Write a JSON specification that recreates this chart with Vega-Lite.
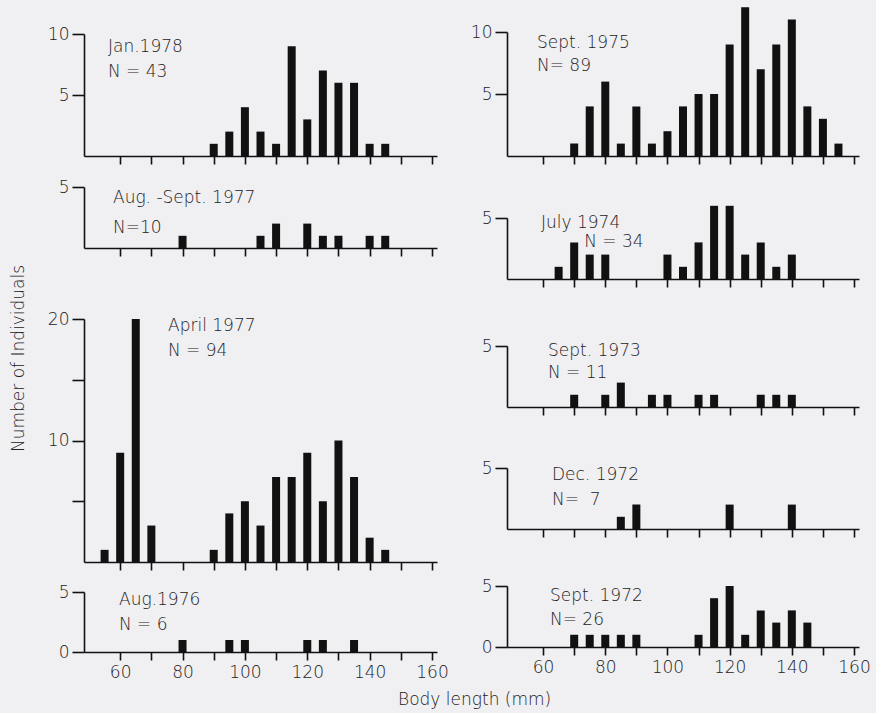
{
  "$schema": "https://vega.github.io/schema/vega-lite/v6.json",
  "background": "#f0eff2",
  "padding": {"left": 9, "top": 7, "right": 5, "bottom": 5},
  "autosize": {"type": "pad"},
  "title": {"text": "Body length (mm)", "orient": "bottom", "anchor": "middle", "frame": "bounds", "offset": 12, "dx": 35, "fontSize": 17, "font": "DejaVu Sans", "fontWeight": 200, "color": "#222"},
  "datasets": {
    "bars": [
      {"panel": "J78", "length": 90, "count": 1}, {"panel": "J78", "length": 95, "count": 2}, {"panel": "J78", "length": 100, "count": 4}, {"panel": "J78", "length": 105, "count": 2}, {"panel": "J78", "length": 110, "count": 1}, {"panel": "J78", "length": 115, "count": 9}, {"panel": "J78", "length": 120, "count": 3}, {"panel": "J78", "length": 125, "count": 7}, {"panel": "J78", "length": 130, "count": 6}, {"panel": "J78", "length": 135, "count": 6}, {"panel": "J78", "length": 140, "count": 1}, {"panel": "J78", "length": 145, "count": 1},
      {"panel": "AS77", "length": 80, "count": 1}, {"panel": "AS77", "length": 105, "count": 1}, {"panel": "AS77", "length": 110, "count": 2}, {"panel": "AS77", "length": 120, "count": 2}, {"panel": "AS77", "length": 125, "count": 1}, {"panel": "AS77", "length": 130, "count": 1}, {"panel": "AS77", "length": 140, "count": 1}, {"panel": "AS77", "length": 145, "count": 1},
      {"panel": "A77", "length": 55, "count": 1}, {"panel": "A77", "length": 60, "count": 9}, {"panel": "A77", "length": 65, "count": 20}, {"panel": "A77", "length": 70, "count": 3}, {"panel": "A77", "length": 90, "count": 1}, {"panel": "A77", "length": 95, "count": 4}, {"panel": "A77", "length": 100, "count": 5}, {"panel": "A77", "length": 105, "count": 3}, {"panel": "A77", "length": 110, "count": 7}, {"panel": "A77", "length": 115, "count": 7}, {"panel": "A77", "length": 120, "count": 9}, {"panel": "A77", "length": 125, "count": 5}, {"panel": "A77", "length": 130, "count": 10}, {"panel": "A77", "length": 135, "count": 7}, {"panel": "A77", "length": 140, "count": 2}, {"panel": "A77", "length": 145, "count": 1},
      {"panel": "A76", "length": 80, "count": 1}, {"panel": "A76", "length": 95, "count": 1}, {"panel": "A76", "length": 100, "count": 1}, {"panel": "A76", "length": 120, "count": 1}, {"panel": "A76", "length": 125, "count": 1}, {"panel": "A76", "length": 135, "count": 1},
      {"panel": "S75", "length": 70, "count": 1}, {"panel": "S75", "length": 75, "count": 4}, {"panel": "S75", "length": 80, "count": 6}, {"panel": "S75", "length": 85, "count": 1}, {"panel": "S75", "length": 90, "count": 4}, {"panel": "S75", "length": 95, "count": 1}, {"panel": "S75", "length": 100, "count": 2}, {"panel": "S75", "length": 105, "count": 4}, {"panel": "S75", "length": 110, "count": 5}, {"panel": "S75", "length": 115, "count": 5}, {"panel": "S75", "length": 120, "count": 9}, {"panel": "S75", "length": 125, "count": 12}, {"panel": "S75", "length": 130, "count": 7}, {"panel": "S75", "length": 135, "count": 9}, {"panel": "S75", "length": 140, "count": 11}, {"panel": "S75", "length": 145, "count": 4}, {"panel": "S75", "length": 150, "count": 3}, {"panel": "S75", "length": 155, "count": 1},
      {"panel": "J74", "length": 65, "count": 1}, {"panel": "J74", "length": 70, "count": 3}, {"panel": "J74", "length": 75, "count": 2}, {"panel": "J74", "length": 80, "count": 2}, {"panel": "J74", "length": 100, "count": 2}, {"panel": "J74", "length": 105, "count": 1}, {"panel": "J74", "length": 110, "count": 3}, {"panel": "J74", "length": 115, "count": 6}, {"panel": "J74", "length": 120, "count": 6}, {"panel": "J74", "length": 125, "count": 2}, {"panel": "J74", "length": 130, "count": 3}, {"panel": "J74", "length": 135, "count": 1}, {"panel": "J74", "length": 140, "count": 2},
      {"panel": "S73", "length": 70, "count": 1}, {"panel": "S73", "length": 80, "count": 1}, {"panel": "S73", "length": 85, "count": 2}, {"panel": "S73", "length": 95, "count": 1}, {"panel": "S73", "length": 100, "count": 1}, {"panel": "S73", "length": 110, "count": 1}, {"panel": "S73", "length": 115, "count": 1}, {"panel": "S73", "length": 130, "count": 1}, {"panel": "S73", "length": 135, "count": 1}, {"panel": "S73", "length": 140, "count": 1},
      {"panel": "D72", "length": 85, "count": 1}, {"panel": "D72", "length": 90, "count": 2}, {"panel": "D72", "length": 120, "count": 2}, {"panel": "D72", "length": 140, "count": 2},
      {"panel": "S72", "length": 70, "count": 1}, {"panel": "S72", "length": 75, "count": 1}, {"panel": "S72", "length": 80, "count": 1}, {"panel": "S72", "length": 85, "count": 1}, {"panel": "S72", "length": 90, "count": 1}, {"panel": "S72", "length": 110, "count": 1}, {"panel": "S72", "length": 115, "count": 4}, {"panel": "S72", "length": 120, "count": 5}, {"panel": "S72", "length": 125, "count": 1}, {"panel": "S72", "length": 130, "count": 3}, {"panel": "S72", "length": 135, "count": 2}, {"panel": "S72", "length": 140, "count": 3}, {"panel": "S72", "length": 145, "count": 2}
    ]
  },
  "config": {
    "view": {"stroke": null},
    "font": "DejaVu Sans",
    "axis": {"grid": false, "domainColor": "#111", "domainWidth": 1.6, "tickColor": "#111", "tickWidth": 1.6, "labelColor": "#222", "labelFontSize": 17, "labelFont": "DejaVu Sans", "labelFontWeight": 200, "labelFlush": false, "labelOverlap": false},
    "axisX": {"tickSize": 8, "labelPadding": 4},
    "axisY": {"tickSize": 12, "labelPadding": 3},
    "title": {"anchor": "start", "frame": "group", "fontSize": 17, "fontWeight": 200, "font": "DejaVu Sans", "color": "#222"}
  },
  "spacing": 21,
  "hconcat": [
    {
      "spacing": 0,
      "bounds": "flush",
      "vconcat": [
        {
          "width": 353, "height": 149,
          "data": {"name": "bars"},
          "transform": [{"filter": "datum.panel == 'J78'"}],
          "title": {"text": ["Jan.1978", "N = 43"], "offset": -74, "dx": 24, "lineHeight": 25},
          "mark": {"type": "bar", "width": 8, "color": "#111"},
          "encoding": {
            "x": {"field": "length", "type": "quantitative", "title": null, "scale": {"domain": [50, 160], "nice": false, "zero": false}, "axis": {"values": [60, 70, 80, 90, 100, 110, 120, 130, 140, 150, 160], "labels": false}},
            "y": {"field": "count", "type": "quantitative", "title": null, "scale": {"domain": [0, 10], "range": [149, 27], "nice": false}, "axis": {"values": [5, 10]}}
          }
        },
        {
          "width": 353, "height": 92,
          "data": {"name": "bars"},
          "transform": [{"filter": "datum.panel == 'AS77'"}],
          "title": {"text": ["Aug. -Sept. 1977", "N=10"], "offset": -81, "dx": 29, "lineHeight": 30},
          "mark": {"type": "bar", "width": 8, "color": "#111"},
          "encoding": {
            "x": {"field": "length", "type": "quantitative", "title": null, "scale": {"domain": [50, 160], "nice": false, "zero": false}, "axis": {"values": [60, 70, 80, 90, 100, 110, 120, 130, 140, 150, 160], "labels": false}},
            "y": {"field": "count", "type": "quantitative", "title": null, "scale": {"domain": [0, 5], "range": [92, 31], "nice": false}, "axis": {"values": [5]}}
          }
        },
        {
          "width": 353, "height": 314,
          "data": {"name": "bars"},
          "transform": [{"filter": "datum.panel == 'A77'"}],
          "title": {"text": ["April  1977", "N = 94"], "offset": -112, "dx": 84, "lineHeight": 25},
          "mark": {"type": "bar", "width": 8, "color": "#111"},
          "encoding": {
            "x": {"field": "length", "type": "quantitative", "title": null, "scale": {"domain": [50, 160], "nice": false, "zero": false}, "axis": {"values": [60, 70, 80, 90, 100, 110, 120, 130, 140, 150, 160], "labels": false}},
            "y": {"field": "count", "type": "quantitative", "title": "Number of  Individuals", "scale": {"domain": [0, 20], "range": [314, 71], "nice": false}, "axis": {"values": [5, 10, 15, 20], "labelExpr": "datum.value % 10 == 0 ? datum.label : ''", "titleX": -66, "titleY": 110, "titleAngle": 270, "titleAlign": "center", "titleBaseline": "middle", "titleFontSize": 17, "titleFontWeight": 200, "titleFont": "DejaVu Sans", "titleColor": "#222"}}
          }
        },
        {
          "width": 353, "height": 90,
          "data": {"name": "bars"},
          "transform": [{"filter": "datum.panel == 'A76'"}],
          "title": {"text": ["Aug.1976", "N = 6"], "offset": -72, "dx": 35, "lineHeight": 25},
          "mark": {"type": "bar", "width": 8, "color": "#111"},
          "encoding": {
            "x": {"field": "length", "type": "quantitative", "title": null, "scale": {"domain": [50, 160], "nice": false, "zero": false}, "axis": {"values": [60, 70, 80, 90, 100, 110, 120, 130, 140, 150, 160], "labelExpr": "datum.value % 20 == 0 ? datum.label : ''"}},
            "y": {"field": "count", "type": "quantitative", "title": null, "scale": {"domain": [0, 5], "range": [90, 30], "nice": false}, "axis": {"values": [0, 5]}}
          }
        }
      ]
    },
    {
      "spacing": 0,
      "bounds": "flush",
      "vconcat": [
        {
          "width": 352, "height": 149,
          "data": {"name": "bars"},
          "transform": [{"filter": "datum.panel == 'S75'"}],
          "title": {"text": ["Sept. 1975", "N= 89"], "offset": -68, "dx": 30, "lineHeight": 23},
          "mark": {"type": "bar", "width": 8, "color": "#111"},
          "encoding": {
            "x": {"field": "length", "type": "quantitative", "title": null, "scale": {"domain": [50, 160], "nice": false, "zero": false}, "axis": {"values": [60, 70, 80, 90, 100, 110, 120, 130, 140, 150, 160], "labels": false}},
            "y": {"field": "count", "type": "quantitative", "title": null, "scale": {"domain": [0, 10], "range": [149, 25], "nice": false}, "axis": {"values": [5, 10]}}
          }
        },
        {
          "width": 352, "height": 123,
          "data": {"name": "bars"},
          "transform": [{"filter": "datum.panel == 'J74'"}],
          "title": {"text": ["July 1974", "\u200b\u00a0\u00a0\u00a0\u00a0\u00a0\u00a0\u00a0\u00a0N = 34"], "offset": -95, "dx": 34, "lineHeight": 19},
          "mark": {"type": "bar", "width": 8, "color": "#111"},
          "encoding": {
            "x": {"field": "length", "type": "quantitative", "title": null, "scale": {"domain": [50, 160], "nice": false, "zero": false}, "axis": {"values": [60, 70, 80, 90, 100, 110, 120, 130, 140, 150, 160], "labels": false}},
            "y": {"field": "count", "type": "quantitative", "title": null, "scale": {"domain": [0, 5], "range": [123, 62], "nice": false}, "axis": {"values": [5]}}
          }
        },
        {
          "width": 352, "height": 128,
          "data": {"name": "bars"},
          "transform": [{"filter": "datum.panel == 'S73'"}],
          "title": {"text": ["Sept. 1973", "N = 11"], "offset": -103, "dx": 41, "lineHeight": 22},
          "mark": {"type": "bar", "width": 8, "color": "#111"},
          "encoding": {
            "x": {"field": "length", "type": "quantitative", "title": null, "scale": {"domain": [50, 160], "nice": false, "zero": false}, "axis": {"values": [60, 70, 80, 90, 100, 110, 120, 130, 140, 150, 160], "labels": false}},
            "y": {"field": "count", "type": "quantitative", "title": null, "scale": {"domain": [0, 5], "range": [128, 67], "nice": false}, "axis": {"values": [5]}}
          }
        },
        {
          "width": 352, "height": 122,
          "data": {"name": "bars"},
          "transform": [{"filter": "datum.panel == 'D72'"}],
          "title": {"text": ["Dec. 1972", "N=\u00a0\u00a07"], "offset": -102, "dx": 45, "lineHeight": 25},
          "mark": {"type": "bar", "width": 8, "color": "#111"},
          "encoding": {
            "x": {"field": "length", "type": "quantitative", "title": null, "scale": {"domain": [50, 160], "nice": false, "zero": false}, "axis": {"values": [60, 70, 80, 90, 100, 110, 120, 130, 140, 150, 160], "labels": false}},
            "y": {"field": "count", "type": "quantitative", "title": null, "scale": {"domain": [0, 5], "range": [122, 61], "nice": false}, "axis": {"values": [5]}}
          }
        },
        {
          "width": 352, "height": 118,
          "data": {"name": "bars"},
          "transform": [{"filter": "datum.panel == 'S72'"}],
          "title": {"text": ["Sept. 1972", "N= 26"], "offset": -100, "dx": 43, "lineHeight": 24},
          "mark": {"type": "bar", "width": 8, "color": "#111"},
          "encoding": {
            "x": {"field": "length", "type": "quantitative", "title": null, "scale": {"domain": [50, 160], "nice": false, "zero": false}, "axis": {"values": [60, 70, 80, 90, 100, 110, 120, 130, 140, 150, 160], "labelExpr": "datum.value % 20 == 0 ? datum.label : ''"}},
            "y": {"field": "count", "type": "quantitative", "title": null, "scale": {"domain": [0, 5], "range": [118, 57], "nice": false}, "axis": {"values": [0, 5]}}
          }
        }
      ]
    }
  ]
}
